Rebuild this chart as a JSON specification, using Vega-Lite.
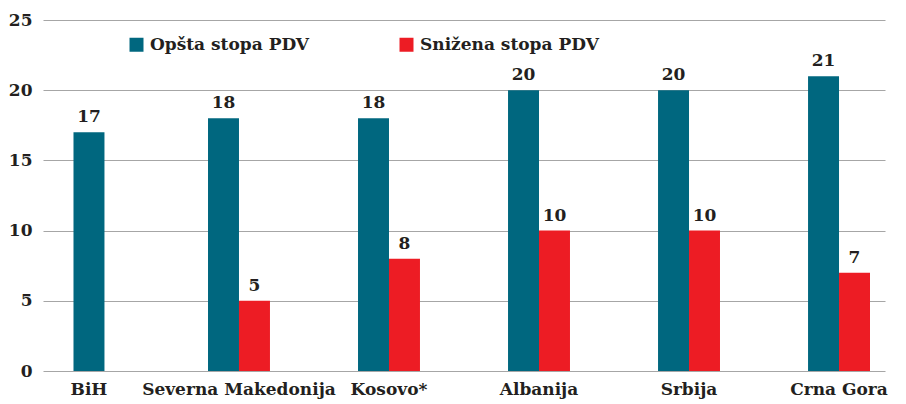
{
  "$schema": "https://vega.github.io/schema/vega-lite/v6.json",
  "width": 863,
  "height": 351,
  "autosize": {"type": "none"},
  "padding": {"left": 43, "top": 20, "right": 0, "bottom": 33},
  "background": "white",
  "config": {
    "view": {"stroke": null},
    "font": "DejaVu Serif",
    "text": {"font": "DejaVu Serif"}
  },
  "data": {
    "values": [
      {"country": "BiH", "series": "Opšta stopa PDV", "value": 17},
      {"country": "Severna Makedonija", "series": "Opšta stopa PDV", "value": 18},
      {"country": "Severna Makedonija", "series": "Snižena stopa PDV", "value": 5},
      {"country": "Kosovo*", "series": "Opšta stopa PDV", "value": 18},
      {"country": "Kosovo*", "series": "Snižena stopa PDV", "value": 8},
      {"country": "Albanija", "series": "Opšta stopa PDV", "value": 20},
      {"country": "Albanija", "series": "Snižena stopa PDV", "value": 10},
      {"country": "Srbija", "series": "Opšta stopa PDV", "value": 20},
      {"country": "Srbija", "series": "Snižena stopa PDV", "value": 10},
      {"country": "Crna Gora", "series": "Opšta stopa PDV", "value": 21},
      {"country": "Crna Gora", "series": "Snižena stopa PDV", "value": 7}
    ]
  },
  "encoding": {
    "x": {
      "field": "country",
      "type": "nominal",
      "sort": ["BiH", "Severna Makedonija", "Kosovo*", "Albanija", "Srbija", "Crna Gora"],
      "title": null,
      "scale": {"range": [0, 842], "paddingInner": 0.587, "paddingOuter": 0.1},
      "axis": {
        "domain": false,
        "ticks": false,
        "labelAngle": 0,
        "labelFont": "DejaVu Serif",
        "labelFontWeight": "bold",
        "labelFontSize": 17,
        "labelColor": "#231F20",
        "labelPadding": 10,
        "labelLimit": 300
      }
    },
    "y": {
      "field": "value",
      "type": "quantitative",
      "title": null,
      "scale": {"domain": [0, 25], "nice": false},
      "axis": {
        "values": [0, 5, 10, 15, 20, 25],
        "domain": false,
        "ticks": false,
        "grid": true,
        "gridColor": "#A6A6A6",
        "gridWidth": 1.2,
        "labelFont": "DejaVu Serif",
        "labelFontWeight": "bold",
        "labelFontSize": 17,
        "labelColor": "#231F20",
        "labelPadding": 11
      }
    },
    "color": {
      "field": "series",
      "type": "nominal",
      "title": null,
      "scale": {
        "domain": ["Opšta stopa PDV", "Snižena stopa PDV"],
        "range": ["#00677F", "#ED1C24"]
      },
      "legend": {
        "orient": "none",
        "legendX": 85,
        "legendY": 16,
        "direction": "horizontal",
        "symbolType": "square",
        "symbolSize": 196,
        "symbolStrokeWidth": 0,
        "symbolOpacity": 1,
        "labelFont": "DejaVu Serif",
        "labelFontWeight": "bold",
        "labelFontSize": 17,
        "labelColor": "#231F20",
        "labelOffset": 5,
        "labelLimit": 300,
        "columnPadding": 88,
        "padding": 0
      }
    }
  },
  "layer": [
    {
      "transform": [{"filter": "datum.country != 'BiH'"}],
      "layer": [
        {
          "mark": {"type": "bar"},
          "encoding": {
            "xOffset": {
              "field": "series",
              "type": "nominal",
              "scale": {"domain": ["Opšta stopa PDV", "Snižena stopa PDV"], "paddingInner": 0, "paddingOuter": 0}
            }
          }
        },
        {
          "mark": {"type": "text", "baseline": "alphabetic", "dy": -10, "fontSize": 17, "fontWeight": "bold", "font": "DejaVu Serif", "color": "#231F20"},
          "encoding": {
            "xOffset": {
              "field": "series",
              "type": "nominal",
              "scale": {"domain": ["Opšta stopa PDV", "Snižena stopa PDV"], "paddingInner": 0, "paddingOuter": 0}
            },
            "text": {"field": "value", "type": "quantitative"},
            "color": {"value": "#231F20"}
          }
        }
      ]
    },
    {
      "transform": [{"filter": "datum.country == 'BiH'"}],
      "layer": [
        {
          "mark": {"type": "bar", "width": {"band": 0.5}}
        },
        {
          "mark": {"type": "text", "baseline": "alphabetic", "dy": -10, "fontSize": 17, "fontWeight": "bold", "font": "DejaVu Serif", "color": "#231F20"},
          "encoding": {
            "text": {"field": "value", "type": "quantitative"},
            "color": {"value": "#231F20"}
          }
        }
      ]
    }
  ]
}
